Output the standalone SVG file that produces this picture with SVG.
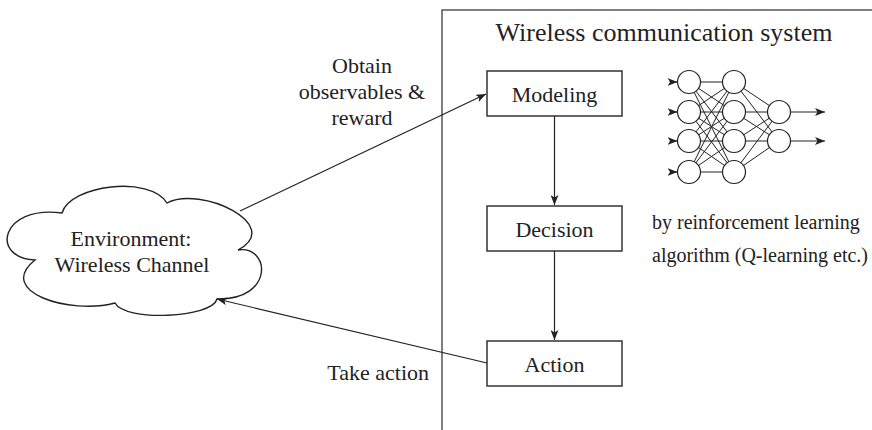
<svg xmlns="http://www.w3.org/2000/svg" width="872" height="430" viewBox="0 0 872 430">
  <style>
    .lbl { font-family: "Liberation Serif", "Times New Roman", serif; fill: #222; }
    .box { fill: #fff; stroke: #333; stroke-width: 1.5; }
    .edge { fill: none; stroke: #222; stroke-width: 1.2; }
    .frame { fill: none; stroke: #555; stroke-width: 1.5; }
    .neuron { fill: #fff; stroke: #222; stroke-width: 1.2; }
    .syn { stroke: #222; stroke-width: 1; }
  </style>
  <defs>
    <marker id="arrow" viewBox="0 0 10 8" refX="10" refY="4" markerWidth="10" markerHeight="8" markerUnits="userSpaceOnUse" orient="auto">
      <path d="M0,0 L10,4 L0,8 L2.5,4 Z" fill="#222"/>
    </marker>
  </defs>

  <rect width="872" height="430" fill="#fff"/>

  <!-- system boundary -->
  <g id="system">
    <path class="frame" d="M442,430 V10 H872"/>
    <text class="lbl" x="664" y="41" font-size="26" text-anchor="middle">Wireless communication system</text>
  </g>

  <!-- environment cloud -->
  <g id="environment">
    <path fill="#fff" stroke="#222" stroke-width="1.4"
      d="M35,260 C-10,258 0,205 62,213 C70,185 150,175 167,203 C200,185 285,225 238,250 C270,245 275,300 217,299 C212,318 125,322 115,303 C70,315 -5,292 35,260 Z"/>
    <text class="lbl" x="131" y="246" font-size="22" text-anchor="middle">Environment:</text>
    <text class="lbl" x="132" y="272" font-size="22" text-anchor="middle">Wireless Channel</text>
  </g>

  <g id="modeling">
    <rect class="box" x="487" y="71" width="135" height="45"/>
    <text class="lbl" x="554.5" y="102" font-size="22" text-anchor="middle">Modeling</text>
  </g>

  <g id="decision">
    <rect class="box" x="487" y="206" width="135" height="45"/>
    <text class="lbl" x="554.5" y="237" font-size="22" text-anchor="middle">Decision</text>
  </g>

  <g id="action">
    <rect class="box" x="487" y="341" width="135" height="45"/>
    <text class="lbl" x="554.5" y="372" font-size="22" text-anchor="middle">Action</text>
  </g>

  <!-- neural network sketch -->
  <g id="network">
    <g class="syn">
      <!-- layer 1 to layer 2 -->
      <path d="M689,82 L734,82 M689,82 L734,112 M689,82 L734,141 M689,82 L734,172
               M689,112 L734,82 M689,112 L734,112 M689,112 L734,141 M689,112 L734,172
               M689,141 L734,82 M689,141 L734,112 M689,141 L734,141 M689,141 L734,172
               M689,172 L734,82 M689,172 L734,112 M689,172 L734,141 M689,172 L734,172"/>
      <!-- layer 2 to output -->
      <path d="M734,82 L779,112 M734,82 L779,141 M734,112 L779,112 M734,112 L779,141
               M734,141 L779,112 M734,141 L779,141 M734,172 L779,112 M734,172 L779,141"/>
    </g>
    <g class="edge">
      <line x1="670" y1="82" x2="677.5" y2="82" marker-end="url(#arrow)"/>
      <line x1="670" y1="112" x2="677.5" y2="112" marker-end="url(#arrow)"/>
      <line x1="670" y1="141" x2="677.5" y2="141" marker-end="url(#arrow)"/>
      <line x1="670" y1="172" x2="677.5" y2="172" marker-end="url(#arrow)"/>
      <line x1="790.5" y1="112" x2="825" y2="112" marker-end="url(#arrow)"/>
      <line x1="790.5" y1="141" x2="825" y2="141" marker-end="url(#arrow)"/>
    </g>
    <circle class="neuron" cx="689" cy="82" r="11.5"/>
    <circle class="neuron" cx="689" cy="112" r="11.5"/>
    <circle class="neuron" cx="689" cy="141" r="11.5"/>
    <circle class="neuron" cx="689" cy="172" r="11.5"/>
    <circle class="neuron" cx="734" cy="82" r="11.5"/>
    <circle class="neuron" cx="734" cy="112" r="11.5"/>
    <circle class="neuron" cx="734" cy="141" r="11.5"/>
    <circle class="neuron" cx="734" cy="172" r="11.5"/>
    <circle class="neuron" cx="779" cy="112" r="11.5"/>
    <circle class="neuron" cx="779" cy="141" r="11.5"/>
  </g>

  <g id="rl-note">
    <text class="lbl" x="652" y="229" font-size="20">by reinforcement learning</text>
    <text class="lbl" x="652" y="262" font-size="20">algorithm (Q-learning etc.)</text>
  </g>

  <!-- connectors -->
  <g id="connectors">
    <line class="edge" x1="240" y1="211" x2="486" y2="94" marker-end="url(#arrow)"/>
    <line class="edge" x1="554.5" y1="116" x2="554.5" y2="205" marker-end="url(#arrow)"/>
    <line class="edge" x1="554.5" y1="251" x2="554.5" y2="340" marker-end="url(#arrow)"/>
    <line class="edge" x1="487" y1="363" x2="217" y2="299" marker-end="url(#arrow)"/>
    <text class="lbl" x="362" y="73" font-size="22" text-anchor="middle">Obtain</text>
    <text class="lbl" x="362" y="99" font-size="22" text-anchor="middle">observables &amp;</text>
    <text class="lbl" x="362" y="125" font-size="22" text-anchor="middle">reward</text>
    <text class="lbl" x="429" y="380" font-size="22" text-anchor="end">Take action</text>
  </g>
</svg>
